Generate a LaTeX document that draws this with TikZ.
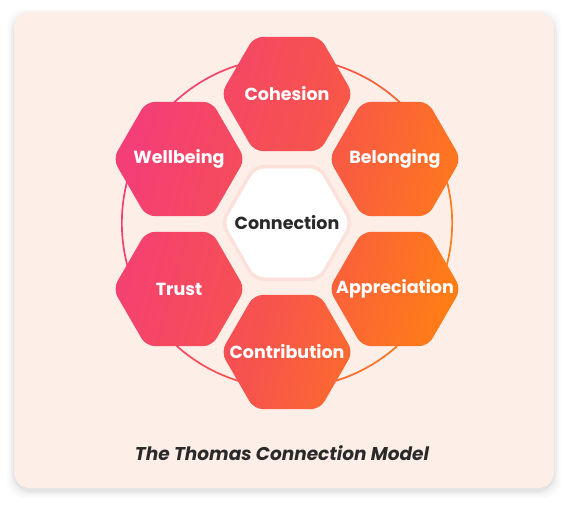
\documentclass[tikz,border=0pt]{standalone}
\usepackage{fontspec}
\setmainfont{Poppins}
\definecolor{cardc}{HTML}{FDEEE8}
\definecolor{pinkc}{HTML}{F33E78}
\definecolor{midc}{HTML}{F7524E}
\definecolor{orangec}{HTML}{FF7D16}
\definecolor{haloc}{HTML}{FBE1D9}
\definecolor{darkc}{HTML}{2A2A2A}
\newcommand\hexR[2]{(#1) ++(#2,0) -- ++(-#2/2,0.866*#2) -- ++(-#2,0) -- ++(-#2/2,-0.866*#2) -- ++(#2/2,-0.866*#2) -- ++(#2,0) -- cycle}
\tikzset{
  lbl/.style={text=white, font=\bfseries\fontsize{17.5}{20}\selectfont, inner sep=0pt},
  grad/.style={left color=pinkc, right color=orangec, middle color=midc, shading angle=75},
}
\begin{document}
\begin{tikzpicture}[x=1pt,y=-1pt]
\useasboundingbox (0,0) rectangle (570,505);
\fill[white] (0,0) rectangle (570,505);
% card shadow
\foreach \i/\o in {7/0.015,5/0.02,3/0.03,1/0.04}
  \fill[black,opacity=\o,rounded corners=18] (14-\i,13-\i+3) rectangle (554+\i,488+\i+3);
\fill[cardc, rounded corners=16] (14,12) rectangle (554,488);
% centres
\coordinate (C) at (287,223);
\coordinate (coh) at (287,94);
\coordinate (con) at (287,352);
\coordinate (wel) at (179,159);
\coordinate (bel) at (395,159);
\coordinate (tru) at (179,289);
\coordinate (app) at (395,289);
% ring
\path[grad, even odd rule] (C) circle (166) (C) circle (164.3);
% petals
\path[grad, rounded corners=9pt]
  \hexR{coh}{66} \hexR{con}{66} \hexR{wel}{66} \hexR{bel}{66} \hexR{tru}{66} \hexR{app}{66};
% centre
\fill[haloc, rounded corners=10pt] \hexR{C}{67};
\fill[white, rounded corners=9pt] \hexR{C}{63};
% labels
\node[lbl] (tcoh) at (coh) {Cohesion};
\node[lbl] (tbel) at (bel) {Belonging};
\node[lbl] (twel) at (wel) {Wellbeing};
\node[lbl] (ttru) at (tru) {Trust};
\node[lbl] (tapp) at (app) {Appreciation};
\node[lbl] (tcon) at (con) {Contribution};
\node[lbl, text=darkc] (tC) at (C) {Connection};
\node[text=darkc, font=\bfseries\itshape\fontsize{18.5}{22}\selectfont, inner sep=0pt] (cap) at (282,453) {The Thomas Connection Model};
\end{tikzpicture}
\end{document}
